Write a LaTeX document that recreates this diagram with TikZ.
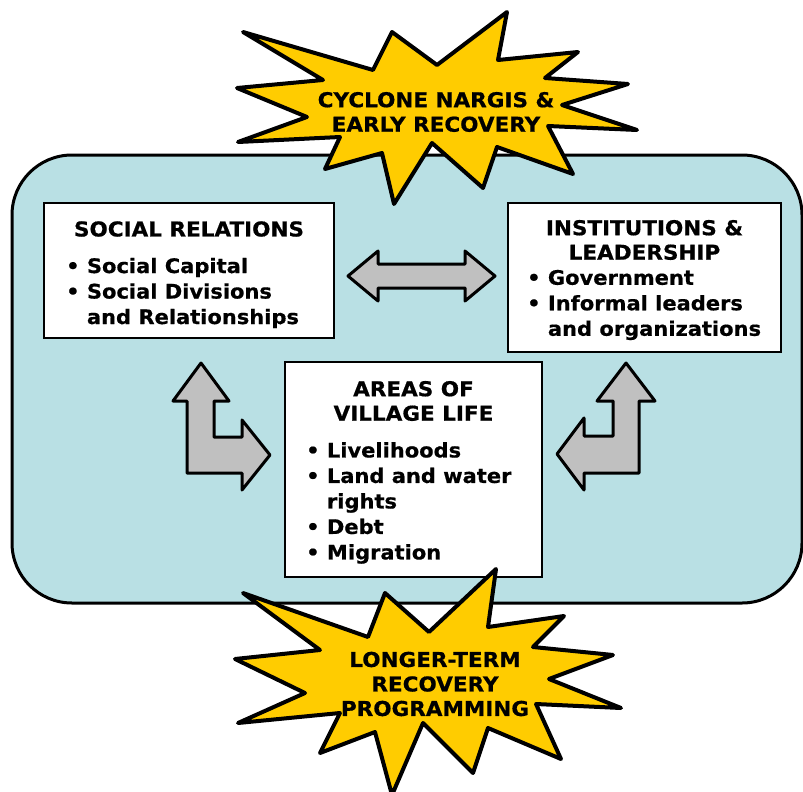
\documentclass[tikz,border=0pt]{standalone}
\usepackage{fontspec}
\setmainfont{DejaVu Sans}[FakeStretch=1.05, BoldFeatures={FakeBold=0.6}]
\usetikzlibrary{positioning}
\definecolor{poolblue}{RGB}{185,224,228}
\definecolor{burstyellow}{RGB}{255,204,0}
\definecolor{arrowgray}{RGB}{192,192,192}

\begin{document}
\begin{tikzpicture}[x=1pt, y=-1pt,
    panel/.style={rectangle, draw=black, line width=1.5pt, fill=white, inner sep=0pt},
    heading/.style={font=\bfseries\fontsize{20.5}{24.5}\selectfont, align=center, inner sep=0pt},
    items/.style={font=\bfseries\fontsize{20}{25.5}\selectfont, align=left, inner sep=0pt},
    burst/.style={draw=black, line width=4pt, line join=round, fill=burstyellow},
    blockarrow/.style={draw=black, line width=3pt, line join=round, fill=arrowgray},
]
\useasboundingbox (0,0) rectangle (803,792);
% Village background
\draw[line width=3pt, fill=poolblue, rounded corners=60pt] (12,155) rectangle (802,603);

% Social relations
\node[panel, minimum width=290pt, minimum height=135pt] (social) at (189,270.5) {};
\node[heading] (socialhead) at (189,229) {SOCIAL RELATIONS};
\node[items, anchor=west] (sociallist) at (66,293) {• Social Capital\\• Social Divisions\\\phantom{• }and Relationships};

% Institutions and leadership
\node[panel, minimum width=273pt, minimum height=149pt] (inst) at (644.5,277.5) {};
\node[heading] (insthead) at (644.5,240) {INSTITUTIONS \&\\LEADERSHIP};
\node[items, anchor=west] (instlist) at (527,305) {• Government\\• Informal leaders\\\phantom{• }and organizations};

% Areas of village life
\node[panel, minimum width=257pt, minimum height=215pt] (areas) at (413.5,469.5) {};
\node[heading] (areashead) at (413.5,401) {AREAS OF\\VILLAGE LIFE};
\node[items, anchor=west] (areaslist) at (306,503) {• Livelihoods\\• Land and water\\\phantom{• }rights\\• Debt\\• Migration};

% Block arrows
\draw[blockarrow] (348,276) -- (378,251) -- (378,264) -- (465,264) -- (465,251) -- (495,276)
    -- (465,301) -- (465,288) -- (378,288) -- (378,301) -- cycle;
\draw[blockarrow] (201,363) -- (229,401) -- (214,401) -- (214,437) -- (242,437) -- (242,420)
    -- (270,455) -- (242,490) -- (242,473) -- (187,473) -- (187,401) -- (173,401) -- cycle;
\draw[blockarrow] (626,363) -- (655,401) -- (639,401) -- (639,473) -- (584,473) -- (584,490)
    -- (557,454) -- (584,418) -- (584,436) -- (613,436) -- (613,401) -- (597,401) -- cycle;

% Cyclone burst
\draw[burst] (243,32) -- (373,70) -- (392,32) -- (437,65) -- (507,12) -- (498,60) -- (578,52)
    -- (545,78) -- (628,84) -- (562,105) -- (637,130) -- (548,126) -- (573,174) -- (497,147)
    -- (483,188) -- (432,143) -- (394,204) -- (382,153) -- (325,169) -- (340,137) -- (238,142)
    -- (307,117) -- (237,88) -- (323,80) -- cycle;
\node[heading] (nargis) at (436,112) {CYCLONE NARGIS \&\\EARLY RECOVERY};

% Recovery burst
\draw[burst] (243,593) -- (368,637) -- (385,593) -- (429,632) -- (496,569) -- (488,627) -- (564,616)
    -- (533,647) -- (613,655) -- (549,679) -- (621,708) -- (536,704) -- (561,759) -- (488,728)
    -- (473,773) -- (423,723) -- (392,795) -- (375,732) -- (320,753) -- (340,713) -- (238,723)
    -- (305,693) -- (235,659) -- (320,650) -- cycle;
\node[heading] (recovery) at (435,684) {LONGER-TERM\\RECOVERY\\PROGRAMMING};
\end{tikzpicture}
\end{document}
